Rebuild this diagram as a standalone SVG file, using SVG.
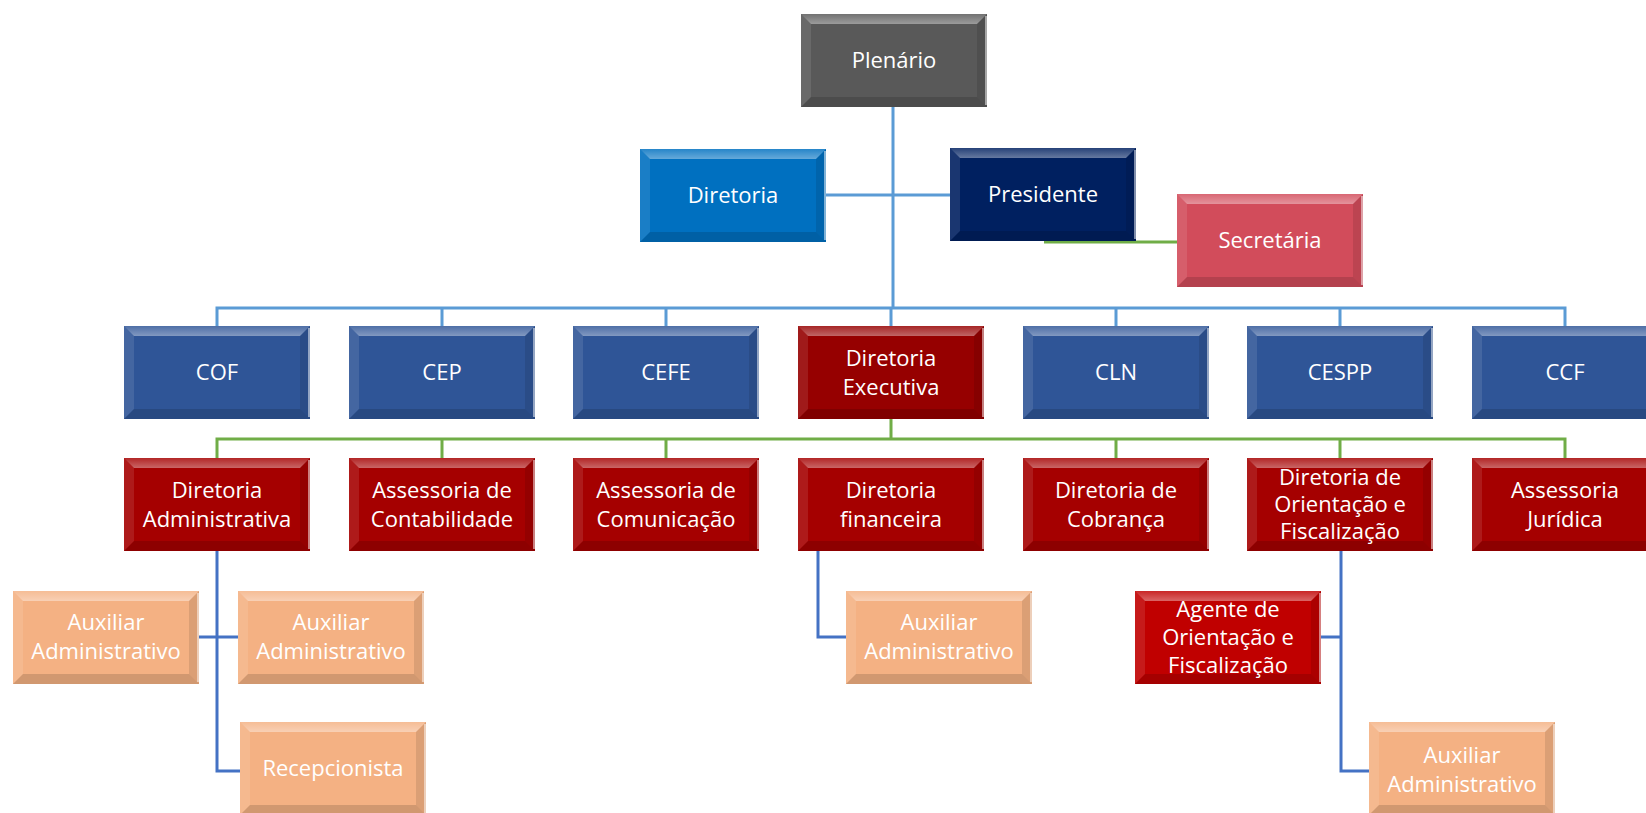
<svg xmlns="http://www.w3.org/2000/svg" xmlns:xlink="http://www.w3.org/1999/xlink" width="1646" height="813" viewBox="0 0 1646 813">
<style>
.gray{fill:#595959}.dblue{fill:#0070C0}.navy{fill:#002060}.pink{fill:#D24C5B}
.blue{fill:#2F5597}.red{fill:#A50000}.dred{fill:#960000}.bred{fill:#C00000}.org{fill:#F4B183}
text{font-family:"Open Sans","Liberation Sans",Arial,sans-serif;font-size:22px;fill:#fff;text-anchor:middle}
.cb{fill:none;stroke:#5B9BD5;stroke-width:3}
.cg{fill:none;stroke:#70AD47;stroke-width:3}
.cd{fill:none;stroke:#4472C4;stroke-width:3}
</style>
<defs>
<linearGradient id="tg" x1="0" y1="0" x2="0" y2="1"><stop offset="0" stop-color="#fff" stop-opacity="0.15"/><stop offset="1" stop-color="#fff" stop-opacity="0.4"/></linearGradient>
<g id="bev">
<polygon points="0,0 186,0 176,10 10,10" fill="url(#tg)"/>
<polygon points="0,0 10,10 10,83 0,93" fill="#fff" fill-opacity="0.1"/>
<polygon points="186,0 186,93 176,83 176,10" fill="#000" fill-opacity="0.1"/>
<polygon points="0,93 10,83 176,83 186,93" fill="#000" fill-opacity="0.14"/>
<line x1="185" y1="2" x2="185" y2="91" stroke="#fff" stroke-opacity="0.5" stroke-width="2"/>
</g>
</defs>
<rect width="1646" height="813" fill="#fff"/>
<g id="connectors">
<path class="cb" d="M893,107V308M826,195H950"/>
<path class="cg" d="M1044,242H1177"/>
<path class="cb" d="M217,326V308H1565V326M442,308V326M666,308V326M891,308V326M1116,308V326M1340,308V326"/>
<path class="cg" d="M891,419V439M217,458V439H1565V458M442,439V458M666,439V458M1116,439V458M1340,439V458"/>
<path class="cd" d="M217,551V771H240M198,637H238"/>
<path class="cd" d="M818,551V637H846"/>
<path class="cd" d="M1341,551V771H1369M1321,637H1341"/>
</g>
<g id="n-plenario"><rect class="gray" x="801" y="14" width="186" height="93"/><use xlink:href="#bev" x="801" y="14"/><text x="894" y="68">Plenário</text></g>
<g id="n-diretoria"><rect class="dblue" x="640" y="149" width="186" height="93"/><use xlink:href="#bev" x="640" y="149"/><text x="733" y="203">Diretoria</text></g>
<g id="n-presidente"><rect class="navy" x="950" y="148" width="186" height="93"/><use xlink:href="#bev" x="950" y="148"/><text x="1043" y="202">Presidente</text></g>
<g id="n-secretaria"><rect class="pink" x="1177" y="194" width="186" height="93"/><use xlink:href="#bev" x="1177" y="194"/><text x="1270" y="248">Secretária</text></g>
<g id="n-cof"><rect class="blue" x="124" y="326" width="186" height="93"/><use xlink:href="#bev" x="124" y="326"/><text x="217" y="380">COF</text></g>
<g id="n-cep"><rect class="blue" x="349" y="326" width="186" height="93"/><use xlink:href="#bev" x="349" y="326"/><text x="442" y="380">CEP</text></g>
<g id="n-cefe"><rect class="blue" x="573" y="326" width="186" height="93"/><use xlink:href="#bev" x="573" y="326"/><text x="666" y="380">CEFE</text></g>
<g id="n-direxec"><rect class="dred" x="798" y="326" width="186" height="93"/><use xlink:href="#bev" x="798" y="326"/><text x="891" y="366">Diretoria</text><text x="891" y="395">Executiva</text></g>
<g id="n-cln"><rect class="blue" x="1023" y="326" width="186" height="93"/><use xlink:href="#bev" x="1023" y="326"/><text x="1116" y="380">CLN</text></g>
<g id="n-cespp"><rect class="blue" x="1247" y="326" width="186" height="93"/><use xlink:href="#bev" x="1247" y="326"/><text x="1340" y="380">CESPP</text></g>
<g id="n-ccf"><rect class="blue" x="1472" y="326" width="186" height="93"/><use xlink:href="#bev" x="1472" y="326"/><text x="1565" y="380">CCF</text></g>
<g id="n-diradm"><rect class="red" x="124" y="458" width="186" height="93"/><use xlink:href="#bev" x="124" y="458"/><text x="217" y="498">Diretoria</text><text x="217" y="527">Administrativa</text></g>
<g id="n-asscont"><rect class="red" x="349" y="458" width="186" height="93"/><use xlink:href="#bev" x="349" y="458"/><text x="442" y="498">Assessoria de</text><text x="442" y="527">Contabilidade</text></g>
<g id="n-asscom"><rect class="red" x="573" y="458" width="186" height="93"/><use xlink:href="#bev" x="573" y="458"/><text x="666" y="498">Assessoria de</text><text x="666" y="527">Comunicação</text></g>
<g id="n-dirfin"><rect class="red" x="798" y="458" width="186" height="93"/><use xlink:href="#bev" x="798" y="458"/><text x="891" y="498">Diretoria</text><text x="891" y="527">financeira</text></g>
<g id="n-dircob"><rect class="red" x="1023" y="458" width="186" height="93"/><use xlink:href="#bev" x="1023" y="458"/><text x="1116" y="498">Diretoria de</text><text x="1116" y="527">Cobrança</text></g>
<g id="n-dirori"><rect class="red" x="1247" y="458" width="186" height="93"/><use xlink:href="#bev" x="1247" y="458"/><text x="1340" y="485">Diretoria de</text><text x="1340" y="512">Orientação e</text><text x="1340" y="539">Fiscalização</text></g>
<g id="n-assjur"><rect class="red" x="1472" y="458" width="186" height="93"/><use xlink:href="#bev" x="1472" y="458"/><text x="1565" y="498">Assessoria</text><text x="1565" y="527">Jurídica</text></g>
<g id="n-aux1"><rect class="org" x="13" y="591" width="186" height="93"/><use xlink:href="#bev" x="13" y="591"/><text x="106" y="630">Auxiliar</text><text x="106" y="659">Administrativo</text></g>
<g id="n-aux2"><rect class="org" x="238" y="591" width="186" height="93"/><use xlink:href="#bev" x="238" y="591"/><text x="331" y="630">Auxiliar</text><text x="331" y="659">Administrativo</text></g>
<g id="n-recep"><rect class="org" x="240" y="722" width="186" height="93"/><use xlink:href="#bev" x="240" y="722"/><text x="333" y="776">Recepcionista</text></g>
<g id="n-aux3"><rect class="org" x="846" y="591" width="186" height="93"/><use xlink:href="#bev" x="846" y="591"/><text x="939" y="630">Auxiliar</text><text x="939" y="659">Administrativo</text></g>
<g id="n-agente"><rect class="bred" x="1135" y="591" width="186" height="93"/><use xlink:href="#bev" x="1135" y="591"/><text x="1228" y="617">Agente de</text><text x="1228" y="645">Orientação e</text><text x="1228" y="673">Fiscalização</text></g>
<g id="n-aux4"><rect class="org" x="1369" y="722" width="186" height="93"/><use xlink:href="#bev" x="1369" y="722"/><text x="1462" y="763">Auxiliar</text><text x="1462" y="792">Administrativo</text></g>
</svg>
